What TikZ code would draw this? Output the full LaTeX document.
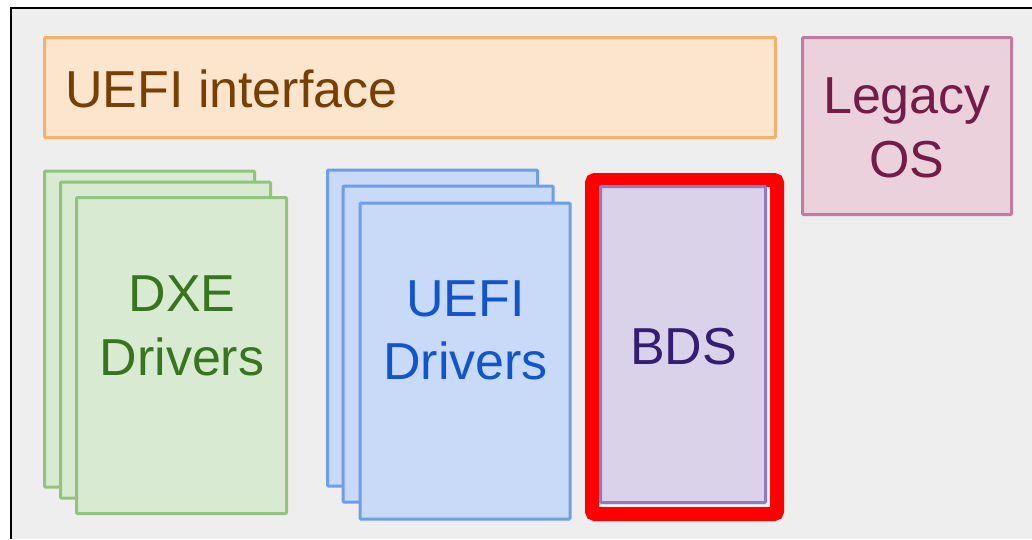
\documentclass[tikz,border=0pt]{standalone}
\usepackage{fontspec}
\setmainfont{Liberation Sans}
\definecolor{bggray}{HTML}{EEEEEE}
\definecolor{orfill}{HTML}{FCE5CD}
\definecolor{ordraw}{HTML}{F6B26B}
\definecolor{ortext}{HTML}{783F04}
\definecolor{pkfill}{HTML}{EAD1DC}
\definecolor{pkdraw}{HTML}{C27BA0}
\definecolor{pktext}{HTML}{741B47}
\definecolor{gnfill}{HTML}{D9EAD3}
\definecolor{gndraw}{HTML}{93C47D}
\definecolor{gntext}{HTML}{38761D}
\definecolor{blfill}{HTML}{C9DAF8}
\definecolor{bldraw}{HTML}{6D9EEB}
\definecolor{bltext}{HTML}{1155CC}
\definecolor{pufill}{HTML}{D9D2E9}
\definecolor{pudraw}{HTML}{8E7CC3}
\definecolor{putext}{HTML}{351C75}
\tikzset{
  box/.style={draw, line width=3pt, inner sep=0pt, rounded corners=1pt},
  orbox/.style={box, fill=orfill, draw=ordraw},
  pkbox/.style={box, fill=pkfill, draw=pkdraw},
  gnbox/.style={box, fill=gnfill, draw=gndraw, minimum width=210pt, minimum height=316pt},
  blbox/.style={box, fill=blfill, draw=bldraw, minimum width=210pt, minimum height=316pt},
  pubox/.style={box, fill=pufill, draw=pudraw},
  hilite/.style={draw=red, line width=14pt, rounded corners=3pt, inner sep=0pt},
  lbl/.style={anchor=base, inner sep=0pt, font=\fontsize{52}{62}\selectfont}
}
\begin{document}
\begin{tikzpicture}[x=1pt,y=-1pt]
\useasboundingbox (0,0) rectangle (1032,539);
\fill[white] (0,0) rectangle (1032,539);
\fill[bggray] (11,8) rectangle (1032,539);
\draw[line width=2pt] (11,539) -- (11,8) -- (1032,8);

% UEFI interface
\node[orbox, minimum width=731pt, minimum height=100pt] (uefiif) at (410,87.5) {};
\node[lbl, anchor=base west, text=ortext] (uefiiftxt) at (65,107) {UEFI interface};

% Legacy OS
\node[pkbox, minimum width=209pt, minimum height=177pt] (legacy) at (907,126) {};
\node[lbl, text=pktext] (legacy1) at (907,113) {Legacy};
\node[lbl, text=pktext] (legacy2) at (907,177) {OS};

% DXE drivers stack
\node[gnbox] (dxe3) at (149.5,329) {};
\node[gnbox] (dxe2) at (165.5,340) {};
\node[gnbox] (dxe1) at (181.5,355.5) {};
\node[lbl, text=gntext] (dxet1) at (182,311) {DXE};
\node[lbl, text=gntext] (dxet2) at (182,375) {Drivers};

% UEFI drivers stack
\node[blbox] (ud3) at (432.5,328) {};
\node[blbox] (ud2) at (448,344) {};
\node[blbox] (ud1) at (465,361) {};
\node[lbl, text=bltext] (udt1) at (465.5,316) {UEFI};
\node[lbl, text=bltext] (udt2) at (465.5,379) {Drivers};

% BDS
\node[hilite, minimum width=185pt, minimum height=334pt] (bdsred) at (684.5,347) {};
\node[pubox, minimum width=165pt, minimum height=316pt] (bds) at (683,344.5) {};
\node[lbl, text=putext] (bdst) at (683.5,364) {BDS};
\end{tikzpicture}
\end{document}
